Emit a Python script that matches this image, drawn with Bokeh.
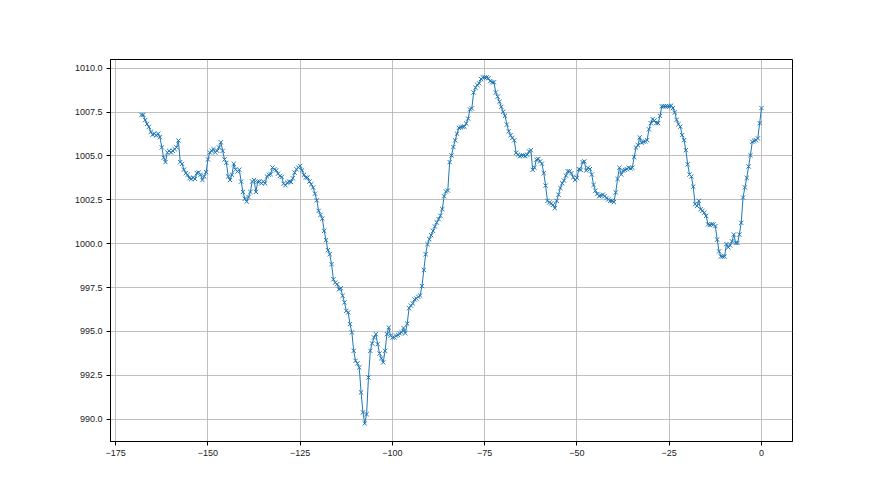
import numpy as np
from bokeh.plotting import figure
from bokeh.models import Range1d, FixedTicker
from bokeh.embed import file_html
from bokeh.resources import INLINE

# hours before now, half-hourly
hours = np.arange(-168, 0.5, 0.5)

seg_a = [1007.34, 1007.34, 1007.05, 1006.82, 1006.66, 1006.37, 1006.21, 1006.27, 1006.17, 1006.27,
         1006.07, 1005.49, 1004.90, 1004.65, 1005.20, 1005.29, 1005.20, 1005.29, 1005.39, 1005.49,
         1005.88, 1004.65, 1004.55, 1004.22, 1004.02, 1003.93, 1003.73, 1003.69, 1003.77, 1003.69,
         1004.02, 1004.06, 1003.93, 1003.63, 1003.83, 1004.08, 1004.80, 1005.20, 1005.29, 1005.39,
         1005.20, 1005.29, 1005.49, 1005.78, 1005.29, 1004.80, 1004.61, 1003.83, 1003.63, 1003.93,
         1004.55, 1004.22, 1004.12, 1004.22, 1003.54, 1002.95, 1002.56, 1002.40, 1002.66, 1002.95,
         1003.54, 1003.63, 1002.95, 1003.54, 1003.54, 1003.44, 1003.54, 1003.44, 1003.83, 1003.93]
seg_b = [1003.96, 1004.34, 1004.24, 1004.18, 1003.99, 1003.86, 1003.80, 1003.42, 1003.33, 1003.48,
         1003.54, 1003.52, 1003.73, 1004.05, 1004.24, 1004.34, 1004.43, 1004.18, 1003.92, 1003.77,
         1003.77, 1003.54, 1003.39, 1003.20, 1002.85, 1002.47, 1001.87, 1001.64, 1001.43, 1000.73,
         1000.20, 999.63, 999.40, 998.83, 997.97, 997.78, 997.69, 997.40, 997.46, 997.03,
         996.65, 996.17, 996.08, 995.41, 994.94, 993.89, 993.32, 993.17, 992.94, 991.52,
         990.38, 989.75, 990.28, 992.37, 993.89, 994.31, 994.65, 994.84, 994.27, 993.74,
         993.47, 993.23, 993.89, 994.84, 995.22, 994.75, 994.65, 994.65, 994.75, 994.80,
         994.88]
seg_c = [994.94, 995.19, 994.90, 995.44, 996.32, 996.47, 996.59, 996.82, 996.87, 996.97,
         997.04, 997.58, 998.50, 999.40, 999.97, 1000.25, 1000.48, 1000.73, 1000.98, 1001.21,
         1001.40, 1001.59, 1001.97, 1002.70, 1002.97, 1003.03, 1004.65, 1005.03, 1005.51, 1005.89,
         1006.27, 1006.60, 1006.64, 1006.66, 1006.67, 1006.85, 1007.13, 1007.65, 1007.71, 1008.62,
         1008.89, 1009.04, 1009.14, 1009.39, 1009.48, 1009.48, 1009.48, 1009.43, 1009.27, 1009.20,
         1009.20, 1008.62, 1008.38, 1008.09, 1007.80, 1007.52, 1007.29, 1006.79, 1006.41, 1006.18,
         1006.03, 1005.89, 1005.18, 1005.07, 1004.99, 1005.03, 1005.03, 1004.99, 1005.07, 1005.26]
seg_d = [1005.33, 1004.21, 1004.33, 1004.79, 1004.83, 1004.69, 1004.56, 1004.02, 1003.31, 1002.44,
         1002.35, 1002.29, 1002.21, 1002.02, 1002.44, 1002.79, 1003.17, 1003.44, 1003.60, 1003.88,
         1004.13, 1004.12, 1004.02, 1003.79, 1003.63, 1003.75, 1004.25, 1004.21, 1004.65, 1004.69,
         1004.17, 1004.33, 1004.25, 1003.94, 1003.35, 1003.02, 1002.83, 1002.71, 1002.75, 1002.79,
         1002.71, 1002.60, 1002.52, 1002.44, 1002.44, 1002.37, 1002.92, 1003.69, 1004.33, 1003.94,
         1004.17, 1004.21, 1004.25, 1004.33, 1004.29, 1004.33, 1004.94, 1005.48, 1005.62, 1006.06,
         1005.75, 1005.81, 1005.83, 1005.90, 1006.52, 1006.87, 1007.10, 1007.02, 1006.87, 1006.87,
         1007.29]
seg_e = [1007.83, 1007.83, 1007.83, 1007.83, 1007.83, 1007.87, 1007.73, 1007.48, 1007.06, 1006.81,
         1006.67, 1006.19, 1005.90, 1005.33, 1004.52, 1003.94, 1003.83, 1003.25, 1002.25, 1002.15,
         1002.44, 1001.96, 1001.87, 1001.77, 1001.58, 1001.10, 1001.06, 1001.10, 1001.10, 1001.00,
         1000.23, 999.56, 999.27, 999.27, 999.27, 999.98, 999.79, 999.90, 1000.13, 1000.52,
         1000.04, 1000.04, 1000.52, 1001.19, 1002.63, 1003.21, 1003.75, 1004.40, 1005.04, 1005.81,
         1005.87, 1005.90, 1006.00, 1006.87, 1007.73]
pressure = seg_a + seg_b + seg_c + seg_d + seg_e

x_ticks = [-175, -150, -125, -100, -75, -50, -25, 0]
x_labels = ["\u2212175", "\u2212150", "\u2212125", "\u2212100", "\u221275", "\u221250", "\u221225", "0"]
y_ticks = [990.0, 992.5, 995.0, 997.5, 1000.0, 1002.5, 1005.0, 1007.5, 1010.0]
y_labels = ["990.0", "992.5", "995.0", "997.5", "1000.0", "1002.5", "1005.0", "1007.5", "1010.0"]

color = "#1f77b4"
font = "Liberation Sans"

p = figure(width=864, height=479, output_backend="svg", toolbar_location=None,
           x_range=Range1d(-176.4, 8.4), y_range=Range1d(988.72, 1010.5),
           min_border_left=110, min_border_right=72, min_border_top=59, min_border_bottom=38)
p.background_fill_color = "white"
p.border_fill_color = "white"
p.outline_line_color = "black"
p.outline_line_width = 1

p.line(hours, pressure, line_color=color, line_width=1)
p.scatter(hours, pressure, marker="x", size=6, line_color=color, line_width=1)

p.xaxis.ticker = FixedTicker(ticks=x_ticks)
p.yaxis.ticker = FixedTicker(ticks=y_ticks)
p.xaxis.major_label_overrides = {t: l for t, l in zip(x_ticks, x_labels)}
p.yaxis.major_label_overrides = {t: l for t, l in zip(y_ticks, y_labels)}

for ax in (p.xaxis[0], p.yaxis[0]):
    ax.axis_line_color = "black"
    ax.axis_line_width = 1
    ax.major_tick_line_color = "black"
    ax.major_tick_out = 4
    ax.major_tick_in = 0
    ax.minor_tick_line_color = None
    ax.major_label_text_font = font
    ax.major_label_text_font_size = "9px"
    ax.major_label_text_color = "#222222"
    ax.major_label_standoff = 4

p.xgrid.grid_line_color = "#b0b0b0"
p.ygrid.grid_line_color = "#b0b0b0"
p.xgrid.grid_line_width = 0.8
p.ygrid.grid_line_width = 0.8

open("out.html", "w").write(file_html(p, INLINE))
